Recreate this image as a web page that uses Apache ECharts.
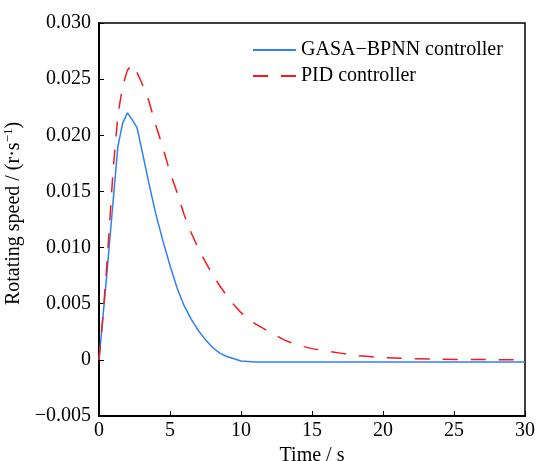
<!DOCTYPE html>
<html>
<head>
<meta charset="utf-8">
<script src="https://cdn.jsdelivr.net/npm/echarts@6/dist/echarts.min.js"></script>
<style>html,body{margin:0;padding:0;background:#fff;}#c{width:537px;height:461px;}</style>
</head>
<body>
<div id="c"></div>
<script>
var seriesNames = ['GASA\u2212BPNN controller', 'PID controller'];
var gasaTime = [0, 0.5, 1, 1.33, 1.67, 2, 2.33, 2.67, 3, 3.5, 4, 4.5, 5, 5.5, 6, 6.5, 7, 7.5, 8, 8.5, 9, 9.5, 10, 11, 12, 14, 16, 18, 20, 22, 24, 26, 28, 30];
var gasaSpeed = [0, 0.0069, 0.0142, 0.0190, 0.0211, 0.0220, 0.0214, 0.0207, 0.0188, 0.0158, 0.0130, 0.0106, 0.0084, 0.0064, 0.0048, 0.0036, 0.0026, 0.0018, 0.0011, 0.0006, 0.0003, 0.0001, -0.0001, -0.0002, -0.0002, -0.0002, -0.0002, -0.0002, -0.0002, -0.0002, -0.0002, -0.0002, -0.0002, -0.0002];
var pidTime = [0, 0.25, 0.5, 0.75, 1, 1.33, 1.67, 2, 2.33, 2.67, 3, 3.5, 4, 4.5, 5, 5.5, 6, 6.5, 7, 7.5, 8, 8.5, 9, 9.5, 10, 11, 12, 13, 14, 15, 16, 17, 18, 19, 20, 22, 24, 26, 28, 30];
var pidSpeed = [0, 0.0035, 0.0075, 0.0122, 0.0170, 0.0218, 0.0244, 0.0258, 0.0263, 0.0256, 0.0247, 0.0231, 0.0209, 0.0189, 0.0167, 0.0149, 0.0129, 0.0113, 0.0099, 0.0087, 0.0076, 0.0066, 0.0057, 0.0049, 0.0042, 0.0032, 0.0025, 0.0018, 0.0013, 0.0010, 0.0008, 0.0006, 0.0004, 0.0003, 0.0002, 0.0001, 0.00005, 0.00003, 0.00002, 0.00001];
var xTickLabels = ['0', '5', '10', '15', '20', '25', '30'];
var yTickLabels = ['\u22120.005', '0', '0.005', '0.010', '0.015', '0.020', '0.025', '0.030'];
var xAxisTitle = 'Time / s';
var yAxisTitle = ['Rotating speed / (r\u00b7s', '\u22121', ')'];

function pairs(t, v) { return t.map(function (x, i) { return [x, v[i]]; }); }

var FONT = 'Liberation Serif';
var chart = echarts.init(document.getElementById('c'), null, { renderer: 'canvas' });
chart.setOption({
  animation: false,
  backgroundColor: '#fff',
  textStyle: { fontFamily: FONT, color: '#000' },
  grid: { left: 99, right: 12, top: 23, bottom: 45, containLabel: false, outerBoundsMode: 'none',
    show: true, borderColor: '#000', borderWidth: 1.5, backgroundColor: 'transparent' },
  legend: {
    orient: 'vertical', left: 247, top: 35, itemWidth: 43, itemHeight: 14, itemGap: 6,
    itemStyle: { opacity: 0, borderWidth: 0 },
    textStyle: { fontFamily: FONT, fontSize: 20, color: '#000' },
    data: seriesNames
  },
  xAxis: {
    type: 'value', min: 0, max: 30, interval: 5,
    name: xAxisTitle, nameLocation: 'middle', nameGap: 26,
    nameTextStyle: { fontFamily: FONT, fontSize: 20, color: '#000' },
    axisLine: { show: true, onZero: false, lineStyle: { color: '#000', width: 2 } },
    axisTick: { show: true, inside: true, length: 5, lineStyle: { color: '#000', width: 1 } },
    axisLabel: { fontFamily: FONT, fontSize: 20, color: '#000', margin: 5,
      formatter: function (v) { return xTickLabels[Math.round(v / 5)]; } },
    splitLine: { show: false }
  },
  yAxis: {
    type: 'value', min: -0.005, max: 0.03, interval: 0.005,
    name: '{m|' + yAxisTitle[0] + '}{s|' + yAxisTitle[1] + '}{m|' + yAxisTitle[2] + '}',
    nameLocation: 'middle', nameGap: 72, nameRotate: 90,
    nameTextStyle: { fontFamily: FONT, fontSize: 20, color: '#000', padding: [0, 0, 0, 12],
      rich: {
        m: { fontFamily: FONT, fontSize: 20, color: '#000', lineHeight: 22, verticalAlign: 'bottom' },
        s: { fontFamily: FONT, fontSize: 13, color: '#000', lineHeight: 22, verticalAlign: 'top' }
      } },
    axisLine: { show: true, onZero: false, lineStyle: { color: '#000', width: 2 } },
    axisTick: { show: true, inside: true, length: 5, lineStyle: { color: '#000', width: 1 } },
    axisLabel: { fontFamily: FONT, fontSize: 20, color: '#000', margin: 8,
      formatter: function (v) { return yTickLabels[Math.round((v + 0.005) / 0.005)]; } },
    splitLine: { show: false }
  },
  series: [
    { name: seriesNames[0], type: 'line', data: pairs(gasaTime, gasaSpeed), symbol: 'none', showSymbol: false,
      lineStyle: { color: '#2f7ff8', width: 1.5 }, itemStyle: { color: '#2f7ff8' } },
    { name: seriesNames[1], type: 'line', data: pairs(pidTime, pidSpeed), symbol: 'none', showSymbol: false,
      lineStyle: { color: '#f51a1a', width: 1.5, type: [15, 13] }, itemStyle: { color: '#f51a1a' } }
  ]
});
</script>
</body>
</html>
